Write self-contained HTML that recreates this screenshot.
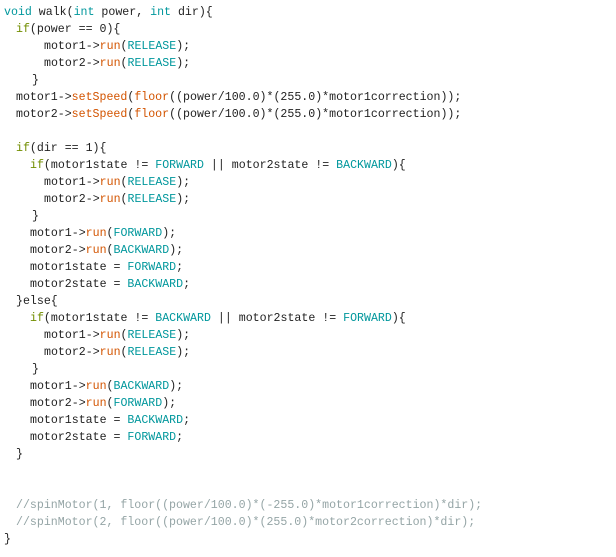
<!DOCTYPE html>
<html><head><meta charset="utf-8"><style>
html,body{margin:0;padding:0;background:#fff;}
body{width:616px;height:557px;position:relative;overflow:hidden;font-family:"Liberation Mono",monospace;font-size:11.6px;color:#222;}
.l{position:absolute;white-space:pre;line-height:17px;height:17px;}
.k{color:#00979c}.i{color:#728e00}.f{color:#d35400}.c{color:#00979c}.m{color:#95a5a6}
</style></head><body>
<div class="l" style="left:4px;top:4px"><span class="k">void</span> walk(<span class="k">int</span> power, <span class="k">int</span> dir){</div>
<div class="l" style="left:16px;top:21px"><span class="i">if</span>(power == 0){</div>
<div class="l" style="left:44px;top:38px">motor1-&gt;<span class="f">run</span>(<span class="c">RELEASE</span>);</div>
<div class="l" style="left:44px;top:55px">motor2-&gt;<span class="f">run</span>(<span class="c">RELEASE</span>);</div>
<div class="l" style="left:32px;top:72px">}</div>
<div class="l" style="left:16px;top:89px">motor1-&gt;<span class="f">setSpeed</span>(<span class="f">floor</span>((power/100.0)*(255.0)*motor1correction));</div>
<div class="l" style="left:16px;top:106px">motor2-&gt;<span class="f">setSpeed</span>(<span class="f">floor</span>((power/100.0)*(255.0)*motor1correction));</div>
<div class="l" style="left:16px;top:140px"><span class="i">if</span>(dir == 1){</div>
<div class="l" style="left:30px;top:157px"><span class="i">if</span>(motor1state != <span class="c">FORWARD</span> || motor2state != <span class="c">BACKWARD</span>){</div>
<div class="l" style="left:44px;top:174px">motor1-&gt;<span class="f">run</span>(<span class="c">RELEASE</span>);</div>
<div class="l" style="left:44px;top:191px">motor2-&gt;<span class="f">run</span>(<span class="c">RELEASE</span>);</div>
<div class="l" style="left:32px;top:208px">}</div>
<div class="l" style="left:30px;top:225px">motor1-&gt;<span class="f">run</span>(<span class="c">FORWARD</span>);</div>
<div class="l" style="left:30px;top:242px">motor2-&gt;<span class="f">run</span>(<span class="c">BACKWARD</span>);</div>
<div class="l" style="left:30px;top:259px">motor1state = <span class="c">FORWARD</span>;</div>
<div class="l" style="left:30px;top:276px">motor2state = <span class="c">BACKWARD</span>;</div>
<div class="l" style="left:16px;top:293px">}else{</div>
<div class="l" style="left:30px;top:310px"><span class="i">if</span>(motor1state != <span class="c">BACKWARD</span> || motor2state != <span class="c">FORWARD</span>){</div>
<div class="l" style="left:44px;top:327px">motor1-&gt;<span class="f">run</span>(<span class="c">RELEASE</span>);</div>
<div class="l" style="left:44px;top:344px">motor2-&gt;<span class="f">run</span>(<span class="c">RELEASE</span>);</div>
<div class="l" style="left:32px;top:361px">}</div>
<div class="l" style="left:30px;top:378px">motor1-&gt;<span class="f">run</span>(<span class="c">BACKWARD</span>);</div>
<div class="l" style="left:30px;top:395px">motor2-&gt;<span class="f">run</span>(<span class="c">FORWARD</span>);</div>
<div class="l" style="left:30px;top:412px">motor1state = <span class="c">BACKWARD</span>;</div>
<div class="l" style="left:30px;top:429px">motor2state = <span class="c">FORWARD</span>;</div>
<div class="l" style="left:16px;top:446px">}</div>
<div class="l m" style="left:16px;top:497px">//spinMotor(1, floor((power/100.0)*(-255.0)*motor1correction)*dir);</div>
<div class="l m" style="left:16px;top:514px">//spinMotor(2, floor((power/100.0)*(255.0)*motor2correction)*dir);</div>
<div class="l" style="left:4px;top:531px">}</div>
</body></html>
